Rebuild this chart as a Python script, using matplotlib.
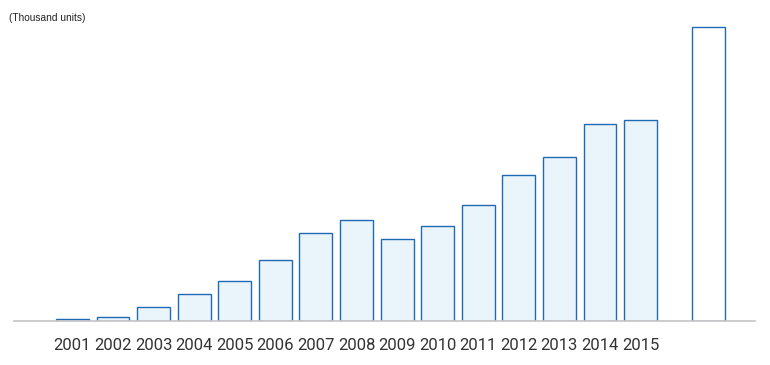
import matplotlib
matplotlib.use('Agg')
import matplotlib.pyplot as plt
import numpy as np

years = ['2001', '2002', '2003', '2004', '2005', '2006', '2007', '2008',
         '2009', '2010', '2011', '2012', '2013', '2014', '2015']
values = [2, 4, 14, 27, 40, 61, 88, 101, 82, 95, 116, 146, 164, 197, 201]
extra_value = 294  # unlabeled last bar

W, H = 770, 365
fig = plt.figure(figsize=(W/100, H/100), dpi=100)
ax = fig.add_axes([14/W, (H-321)/H, (755-14)/W, (321-10)/H])

x = np.arange(len(years))
ax.bar(x, values, width=0.81, color='#eaf4fb', edgecolor='#1f6ab5', linewidth=1.0)
ax.bar([15.68], [extra_value], width=0.81, color='white', edgecolor='#1f6ab5', linewidth=1.0)

ax.set_xlim(-1.44, 16.82)
ax.set_ylim(0, 311)
ax.set_yticks([])
ax.set_xticks(x)
ax.set_xticklabels(years, family=['Roboto', 'DejaVu Sans'],
                   fontsize=12, color='#333333')
ax.tick_params(axis='x', length=0, pad=12)
for s in ['top', 'right', 'left']:
    ax.spines[s].set_visible(False)
ax.spines['bottom'].set_color('#c4c4c4')
ax.spines['bottom'].set_linewidth(1.2)

fig.text(9/W, 1 - 18/H, '(Thousand units)', fontsize=7.3, color='#222222',
         family=['Liberation Sans', 'DejaVu Sans'], va='center', ha='left')

fig.savefig('out.png', dpi=100)
